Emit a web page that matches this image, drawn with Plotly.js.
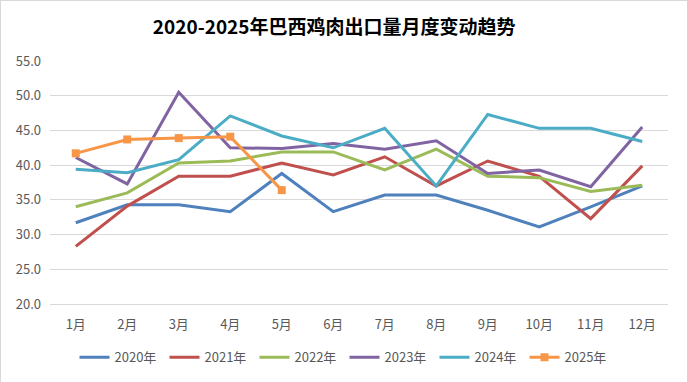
<!DOCTYPE html>
<html><head><meta charset="utf-8">
<script src="https://cdn.plot.ly/plotly-3.0.1.min.js"></script>
<style>html,body{margin:0;padding:0;background:#fff}#c{width:687px;height:382px;box-sizing:border-box;border:1px solid #d9d9d9}</style>
</head><body><div id="c"></div>
<script>
const months = ['1月','2月','3月','4月','5月','6月','7月','8月','9月','10月','11月','12月'];
const seriesNames = ['2020年','2021年','2022年','2023年','2024年','2025年'];
const y2020 = [31.7, 34.3, 34.3, 33.3, 38.8, 33.3, 35.7, 35.7, 33.5, 31.1, 34.0, 37.0];
const y2021 = [28.3, 34.1, 38.4, 38.4, 40.3, 38.6, 41.2, 37.0, 40.6, 38.4, 32.3, 39.9];
const y2022 = [34.0, 36.0, 40.3, 40.6, 41.9, 41.9, 39.3, 42.3, 38.4, 38.2, 36.2, 37.1];
const y2023 = [41.1, 37.3, 50.5, 42.5, 42.4, 43.1, 42.3, 43.5, 38.8, 39.3, 36.9, 45.5];
const y2024 = [39.4, 38.9, 40.8, 47.1, 44.2, 42.5, 45.3, 37.0, 47.3, 45.3, 45.3, 43.4];
const y2025 = [41.7, 43.7, 43.9, 44.1, 36.4];
const colors = ['#4F81BD','#C0504D','#9BBB59','#8064A2','#4BACC6','#F79646'];
const all = [y2020,y2021,y2022,y2023,y2024,y2025];
const font = '"Noto Sans CJK SC", "Noto Sans", sans-serif';
const traces = all.map((ys,i)=>({
  type:'scatter', x: months.slice(0, ys.length), y: ys, name: seriesNames[i],
  mode: i===5 ? 'lines+markers' : 'lines',
  line:{color:colors[i], width:3},
  marker:{symbol:'square', size:8, color:colors[i]}
}));
const layout = {
  width:687, height:382,
  margin:{l:49, r:20, t:60, b:79},
  paper_bgcolor:'#fff', plot_bgcolor:'#fff',
  font:{family:font, size:13, color:'#595959'},
  title:{text:'2020-2025年巴西鸡肉出口量月度变动趋势', x:0.485, xanchor:'center', y:0.93, yanchor:'middle',
    font:{family:font, size:19, color:'#000', weight:'bold'}},
  xaxis:{type:'category', categoryarray:months, range:[-0.5, 11.5], showgrid:false, showline:true, linecolor:'#d9d9d9', linewidth:1,
    ticks:'', ticklabelstandoff:8, tickfont:{size:13, color:'#595959'}, zeroline:false, fixedrange:true},
  yaxis:{range:[20,55], dtick:5, tick0:20, tickformat:'.1f', showgrid:true, gridcolor:'#d9d9d9', gridwidth:1,
    showline:false, zeroline:false, ticks:'', ticklabelstandoff:8, tickfont:{size:13, color:'#595959'}},
  showlegend:true,
  legend:{orientation:'h', xref:'container', x:0.5, xanchor:'center', yref:'container', y:0.067, yanchor:'middle',
    font:{size:13, color:'#595959'}, itemwidth:30, entrywidth:45, traceorder:'normal', bgcolor:'rgba(0,0,0,0)'}
};
Plotly.newPlot('c', traces, layout, {staticPlot:true, displayModeBar:false});
</script></body></html>
